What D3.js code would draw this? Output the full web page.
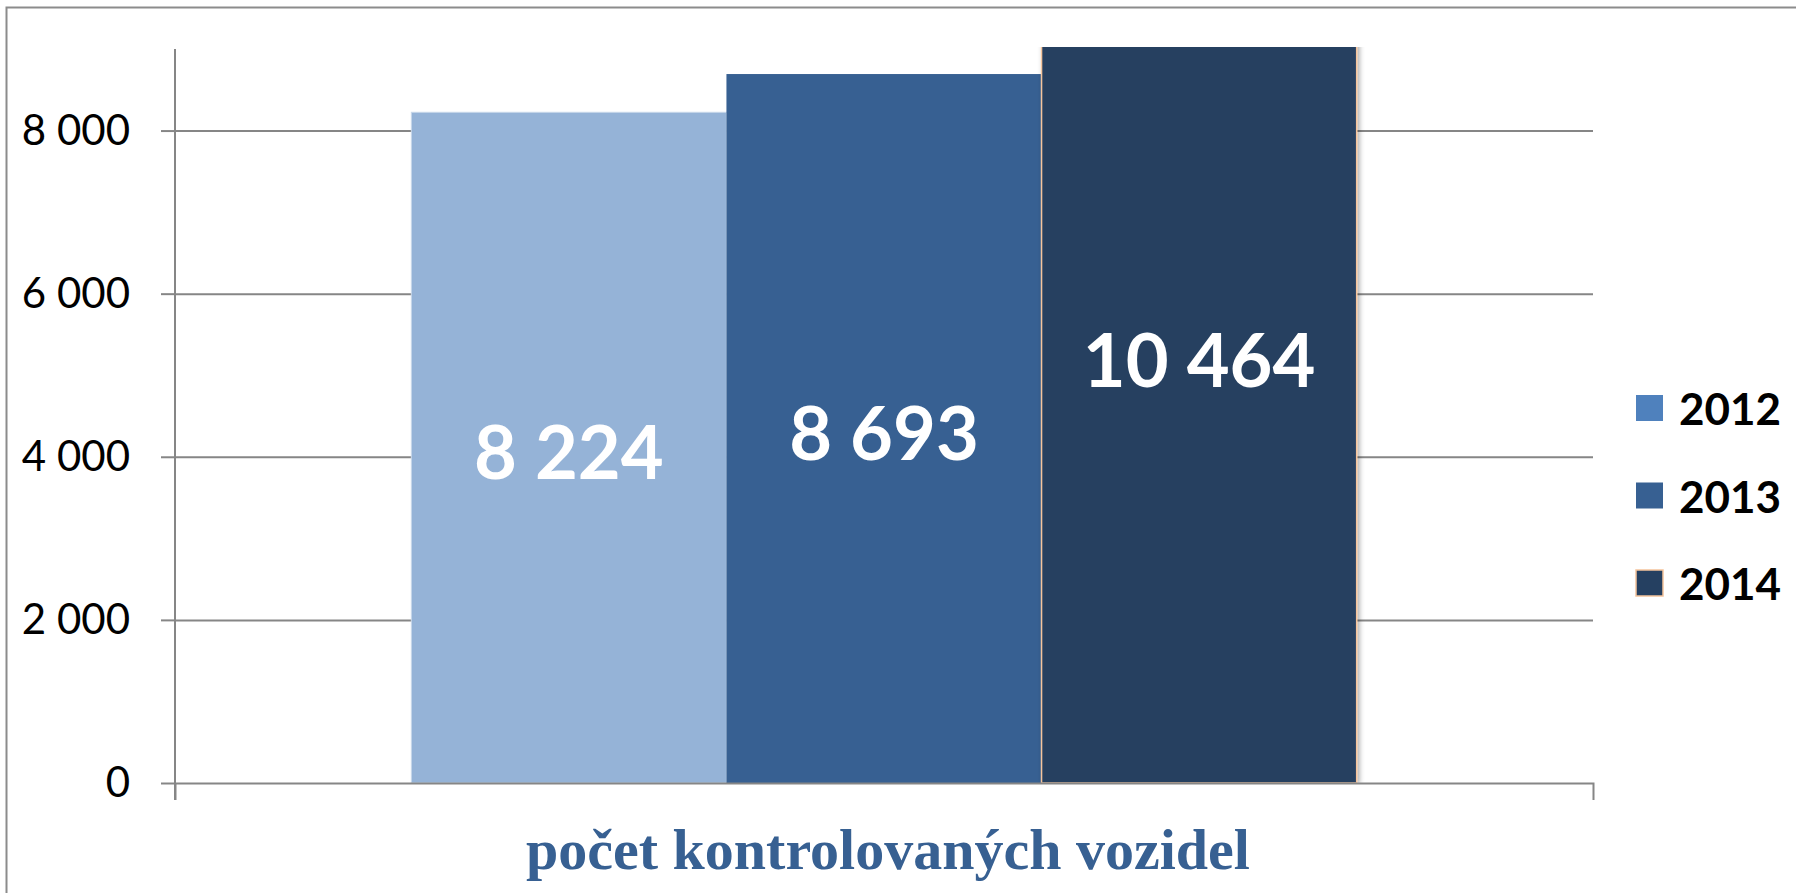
<!DOCTYPE html>
<html>
<head>
<meta charset="utf-8">
<script src="https://cdn.jsdelivr.net/npm/d3@7.9.0/dist/d3.min.js"></script>
<style>
  html, body { margin: 0; padding: 0; background: #fff; overflow: hidden; }
  svg { display: block; }
</style>
</head>
<body>
<svg id="chart" width="1796" height="893"></svg>
<script>
// data
const categories = ['počet kontrolovaných vozidel'];
const years = ['2012', '2013', '2014'];
const values = [8224, 8693, 10464];
const yTicks = [0, 2000, 4000, 6000, 8000];
const yMax = 9000;

const barColors = ['#95b3d7', '#376092', '#254061'];
const legendColors = ['#4f81bd', '#376092', '#254061'];

const W = 1796, H = 893;
const plot = { left: 175, right: 1593, top: 49, bottom: 783 };

const svg = d3.select('#chart');

// outer chart border (runs past the right and bottom edges)
svg.append('rect')
    .attr('x', 6.5).attr('y', 7.5)
    .attr('width', W + 20).attr('height', H + 20)
    .attr('fill', 'none')
    .attr('stroke', '#8c8c8c')
    .attr('stroke-width', 2);

const defs = svg.append('defs');
defs.append('clipPath').attr('id', 'plot-clip')
  .append('rect')
    .attr('x', plot.left - 20).attr('y', plot.top - 2)
    .attr('width', plot.right - plot.left + 40)
    .attr('height', plot.bottom - plot.top + 2);

const shadow = defs.append('filter').attr('id', 'shadow')
    .attr('x', '-5%').attr('y', '-5%').attr('width', '110%').attr('height', '110%');
shadow.append('feDropShadow')
    .attr('dx', 2).attr('dy', 0).attr('stdDeviation', 2.5)
    .attr('flood-color', '#000').attr('flood-opacity', 0.35);

const y = d3.scaleLinear().domain([0, yMax]).range([plot.bottom, plot.top]);
const x0 = d3.scaleBand().domain(categories).range([plot.left, plot.right]);
const x1 = d3.scaleBand().domain(years).range([0, x0.bandwidth()])
    .paddingInner(0).paddingOuter(0.75);

// gridlines
svg.append('g')
    .attr('transform', `translate(${plot.left},0)`)
    .call(d3.axisLeft(y).tickValues(yTicks.filter(d => d > 0))
        .tickSize(-(plot.right - plot.left)).tickFormat(''))
    .call(g => g.select('.domain').remove())
    .call(g => g.selectAll('line').attr('stroke', '#868686').attr('stroke-width', 2));

// bars
const barsG = svg.append('g').attr('clip-path', 'url(#plot-clip)');
categories.forEach(cat => {
    years.forEach((yr, i) => {
        barsG.append('rect')
            .attr('x', x0(cat) + x1(yr))
            .attr('y', y(values[i]))
            .attr('width', x1.bandwidth())
            .attr('height', y(0) - y(values[i]))
            .attr('fill', barColors[i])
            .attr('stroke', i === 2 ? '#f5c49c' : (i === 0 ? '#c8d8ea' : 'none'))
            .attr('stroke-width', i === 2 ? 1.5 : 1)
            .attr('filter', i === 2 ? 'url(#shadow)' : null);
    });
});

// y axis
svg.append('g')
    .attr('transform', `translate(${plot.left},0)`)
    .call(d3.axisLeft(y).tickValues(yTicks).tickSize(14).tickPadding(31)
        .tickFormat(d => d3.format(',')(d).replace(/,/g, ' ')))
    .call(g => g.select('.domain').remove())
    .call(g => g.selectAll('line').attr('stroke', '#868686').attr('stroke-width', 2))
    .call(g => g.selectAll('text')
        .attr('font-family', 'Lato, sans-serif')
        .attr('font-size', 42)
        .attr('fill', '#000'));

svg.append('line')
    .attr('x1', plot.left).attr('x2', plot.left)
    .attr('y1', plot.top).attr('y2', plot.bottom + 17)
    .attr('stroke', '#868686').attr('stroke-width', 2);

// x axis with category boundary ticks
svg.append('g')
    .attr('transform', `translate(0,${plot.bottom})`)
    .call(d3.axisBottom(x0).tickValues([]).tickSizeOuter(17))
    .call(g => g.select('.domain')
        .attr('stroke', '#868686').attr('stroke-width', 2));

// value labels, placed at the middle of the unclipped bar
categories.forEach(cat => {
    years.forEach((yr, i) => {
        svg.append('text')
            .attr('x', x0(cat) + x1(yr) + x1.bandwidth() / 2)
            .attr('y', (y(values[i]) + y(0)) / 2 + 31)
            .attr('text-anchor', 'middle')
            .attr('font-family', 'Lato, sans-serif')
            .attr('font-weight', 700)
            .attr('font-size', 74)
            .attr('fill', '#fff')
            .text(d3.format(',')(values[i]).replace(/,/g, ' '));
    });
});

// category title under the axis
svg.append('text')
    .attr('x', x0(categories[0]) + x0.bandwidth() / 2 + 4)
    .attr('y', 869)
    .attr('text-anchor', 'middle')
    .attr('font-family', '"Liberation Serif", serif')
    .attr('font-weight', 700)
    .attr('font-size', 58)
    .attr('fill', '#376092')
    .text(categories[0]);

// legend
const legend = svg.append('g').attr('transform', 'translate(1636,395)');
years.forEach((yr, i) => {
    const row = legend.append('g').attr('transform', `translate(0,${i * 87.5})`);
    row.append('rect')
        .attr('width', 27).attr('height', 26)
        .attr('fill', legendColors[i])
        .attr('stroke', i === 2 ? '#f5c49c' : 'none')
        .attr('stroke-width', 1.5);
    row.append('text')
        .attr('x', 43).attr('y', 30)
        .attr('font-family', 'Lato, sans-serif')
        .attr('font-weight', 700)
        .attr('font-size', 44)
        .attr('fill', '#000')
        .text(yr);
});
</script>
</body>
</html>
